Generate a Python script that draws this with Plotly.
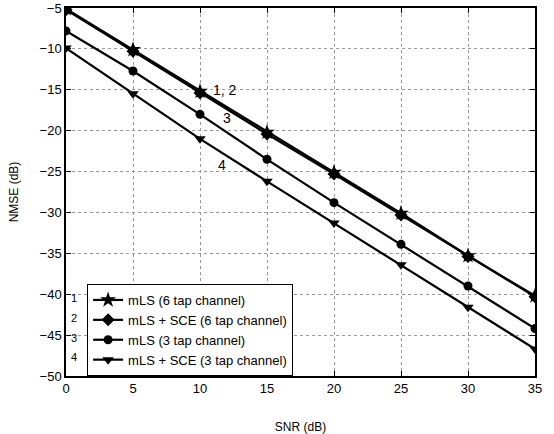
import plotly.graph_objects as go

snr = [0, 5, 10, 15, 20, 25, 30, 35]
mls_6tap = [-5.1, -10.1, -15.2, -20.2, -25.1, -30.1, -35.3, -40.2]
mls_sce_6tap = [-5.2, -10.3, -15.4, -20.4, -25.3, -30.3, -35.4, -40.3]
mls_3tap = [-7.8, -12.7, -18.0, -23.5, -28.8, -33.9, -39.0, -44.2]
mls_sce_3tap = [-9.9, -15.5, -21.0, -26.2, -31.3, -36.4, -41.6, -46.7]

names = ["mLS (6 tap channel)", "mLS + SCE (6 tap channel)",
         "mLS (3 tap channel)", "mLS + SCE (3 tap channel)"]
series = [mls_6tap, mls_sce_6tap, mls_3tap, mls_sce_3tap]
symbols = ["star", "diamond", "circle", "triangle-down"]
sizes = [12, 10, 9, 10]

xticks = [0, 5, 10, 15, 20, 25, 30, 35]
yticks = [-5, -10, -15, -20, -25, -30, -35, -40, -45, -50]

curve_labels = [("1, 2", 10.8, -15.0), ("3", 11.6, -18.4), ("4", 11.2, -24.2)]
legend_nums = ["1", "2", "3", "4"]
legend_num_y = [0.212, 0.157, 0.103, 0.052]

font = "Liberation Sans, Arial, sans-serif"

fig = go.Figure()
for name, ys, sym, sz in zip(names, series, symbols, sizes):
    fig.add_trace(go.Scatter(
        x=snr, y=ys, name=name, mode="lines+markers",
        line=dict(color="black", width=2.2),
        marker=dict(symbol=sym, size=sz, color="black"),
    ))

for txt, xx, yy in curve_labels:
    fig.add_annotation(x=xx, y=yy, text=txt, showarrow=False, xanchor="left",
                       yanchor="middle", font=dict(size=14, color="black", family=font))

for n, yy in zip(legend_nums, legend_num_y):
    fig.add_annotation(xref="paper", yref="paper", x=0.027, y=yy,
                       text=n, showarrow=False, xanchor="right", yanchor="middle",
                       font=dict(size=11, color="black", family=font))

axis_common = dict(
    showline=True, linecolor="black", linewidth=1.5, mirror="ticks",
    ticks="inside", ticklen=5, tickcolor="black",
    showgrid=True, gridcolor="#9a9a9a", griddash="dot", gridwidth=1,
    zeroline=False, automargin=False,
    tickfont=dict(size=13, color="black", family=font),
)

fig.update_layout(
    width=554, height=434,
    margin=dict(l=66, r=19, t=8, b=58),
    paper_bgcolor="white", plot_bgcolor="white",
    font=dict(family=font, color="black"),
    xaxis=dict(range=[0, 35], tickvals=xticks, title=dict(text="SNR (dB)", font=dict(size=12), standoff=33),
               **axis_common),
    yaxis=dict(range=[-50, -5], tickvals=yticks, title=dict(text="NMSE (dB)", font=dict(size=12), standoff=18),
               **axis_common),
    legend=dict(x=0.045, y=0.0, xanchor="left", yanchor="bottom",
                bgcolor="white", bordercolor="black", borderwidth=1,
                font=dict(size=13, family=font, color="black"),
                itemwidth=30, tracegroupgap=0),
    showlegend=True,
)

fig.write_html("out.html", config={"displayModeBar": False},
               post_script="document.body.style.margin='0';")
